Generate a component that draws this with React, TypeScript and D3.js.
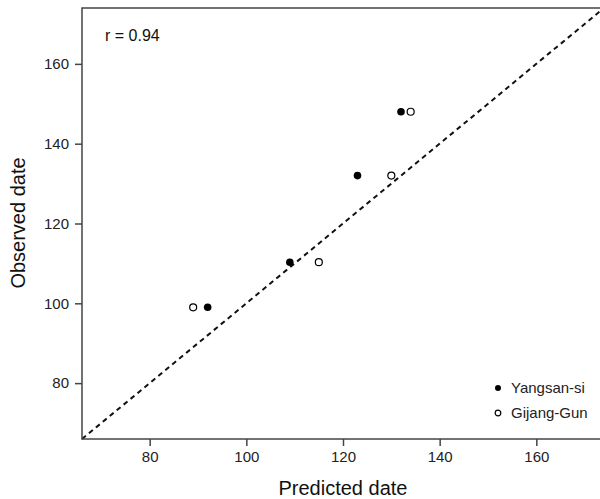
import { useEffect, useRef } from "react";
import { axisBottom, axisLeft, scaleLinear, select } from "d3";

const seriesNames = ["Yangsan-si", "Gijang-Gun"];
const yangsanPredicted = [92, 109, 123, 132];
const yangsanObserved = [99, 110.3, 132, 148];
const gijangPredicted = [89, 115, 130, 134];
const gijangObserved = [99, 110.3, 132, 148];
const tickValues = [80, 100, 120, 140, 160];
const domain = [66, 174];
const rLabel = "r = 0.94";

const W = 600;
const H = 499;
const margin = { top: 8, right: -4, bottom: 60, left: 82 };
const innerW = W - margin.left - margin.right;
const innerH = H - margin.top - margin.bottom;

const font = "'Liberation Sans', Arial, sans-serif";

function AxisBottom({ scale }) {
  const ref = useRef(null);
  useEffect(() => {
    if (ref.current) {
      const g = select(ref.current);
      g.call(axisBottom(scale).tickValues(tickValues).tickSize(7).tickPadding(5).tickSizeOuter(0));
      g.select(".domain").remove();
      g.selectAll(".tick line").attr("stroke", "#444").attr("stroke-width", 1.5);
      g.selectAll(".tick text").attr("font-size", 15).attr("font-family", font).attr("fill", "#222");
    }
  }, [scale]);
  return <g ref={ref} transform={`translate(0, ${innerH})`} />;
}

function AxisLeft({ scale }) {
  const ref = useRef(null);
  useEffect(() => {
    if (ref.current) {
      const g = select(ref.current);
      g.call(axisLeft(scale).tickValues(tickValues).tickSize(7).tickPadding(6).tickSizeOuter(0));
      g.select(".domain").remove();
      g.selectAll(".tick line").attr("stroke", "#444").attr("stroke-width", 1.5);
      g.selectAll(".tick text").attr("font-size", 15).attr("font-family", font).attr("fill", "#222");
    }
  }, [scale]);
  return <g ref={ref} />;
}

export default function App() {
  const x = scaleLinear().domain(domain).range([0, innerW]);
  const y = scaleLinear().domain(domain).range([innerH, 0]);

  return (
    <svg width={W} height={H} style={{ position: "absolute", left: 0, top: 0, background: "#fff" }}>
      <g transform={`translate(${margin.left}, ${margin.top})`}>
        <line
          x1={x(domain[0])}
          y1={y(domain[0])}
          x2={x(domain[1])}
          y2={y(domain[1])}
          stroke="#111"
          strokeWidth={2}
          strokeDasharray="5 4"
        />
        <rect x={0} y={0} width={innerW} height={innerH} fill="none" stroke="#444" strokeWidth={1.5} />
        <AxisBottom scale={x} />
        <AxisLeft scale={y} />
        {yangsanPredicted.map((p, i) => (
          <circle key={"y" + i} cx={x(p)} cy={y(yangsanObserved[i])} r={3.8} fill="#000" />
        ))}
        {gijangPredicted.map((p, i) => (
          <circle key={"g" + i} cx={x(p)} cy={y(gijangObserved[i])} r={3.5} fill="#fff" stroke="#000" strokeWidth={1.2} />
        ))}
        <text x={23} y={33} fontSize={16} fontFamily={font} fill="#111">
          {rLabel}
        </text>
        <g transform={`translate(${416}, ${380})`}>
          <circle cx={0} cy={0} r={3} fill="#000" />
          <text x={13} y={5} fontSize={15} fontFamily={font} fill="#222">
            {seriesNames[0]}
          </text>
          <circle cx={0} cy={25} r={2.8} fill="#fff" stroke="#000" strokeWidth={1.2} />
          <text x={13} y={30} fontSize={15} fontFamily={font} fill="#222">
            {seriesNames[1]}
          </text>
        </g>
      </g>
      <text x={343} y={495} textAnchor="middle" fontSize={20} fontFamily={font} fill="#111">
        Predicted date
      </text>
      <text
        transform={`translate(25, 223) rotate(-90)`}
        textAnchor="middle"
        fontSize={20}
        fontFamily={font}
        fill="#111"
      >
        Observed date
      </text>
    </svg>
  );
}
